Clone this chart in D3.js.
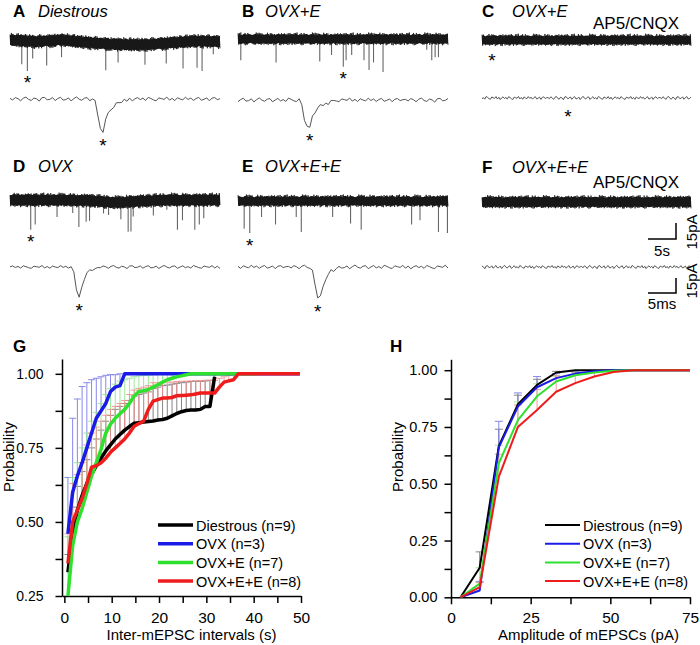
<!DOCTYPE html>
<html>
<head>
<meta charset="utf-8">
<script src="https://d3js.org/d3.v7.min.js"></script>
<style>
html,body{margin:0;padding:0;background:#fff;}
svg{display:block;}
</style>
</head>
<body>
<svg id="fig" width="700" height="645"></svg>
<script>
// ================= DATA =================
// --- Panel G: cumulative probability of inter-mEPSC intervals ---
const intervalBins = [0.75,1.75,2.75,3.75,4.75,5.75,6.75,7.75,8.75,9.75,
  10.75,11.75,12.75,13.75,14.75,15.75,16.75,17.75,18.75,19.75,
  20.75,21.75,22.75,23.75,24.75,25.75,26.75,27.75,28.75,29.75,
  30.75,31.75,32.75,33.75,34.75,35.75,36.75,37.75,38.75,39.75,
  40.75,41.75,42.75,43.75,44.75,45.75,46.75,47.75,48.75,49.75];
const cdfIntDiestrous = [0.33,0.46,0.54,0.59,0.63,0.66,0.69,0.715,0.74,0.76,
  0.78,0.795,0.81,0.822,0.833,0.835,0.837,0.839,0.841,0.844,
  0.846,0.85,0.858,0.866,0.872,0.876,0.878,0.878,0.88,0.89,
  0.89,0.99];
const cdfIntOVX = [0.46,0.60,0.655,0.70,0.75,0.80,0.85,0.875,0.90,0.94,
  0.955,0.96,1,1,1,1,1,1,1,1,
  1,1,1,1,1,1,1,1,1,1,
  1,1,1,1,1,1,1,1,1,1,
  1,1,1,1,1,1,1,1,1,1];
const cdfIntOVXE = [0.25,0.42,0.50,0.545,0.60,0.655,0.70,0.745,0.80,0.83,
  0.85,0.865,0.88,0.90,0.925,0.94,0.943,0.947,0.955,0.963,
  0.972,0.98,0.985,0.99,0.993,0.997,1,1,1,1,
  1,1,1,1,1,1,1,1,1,1,
  1];
const cdfIntOVXEE = [0.36,0.50,0.54,0.58,0.63,0.685,0.69,0.70,0.715,0.735,
  0.75,0.765,0.78,0.80,0.823,0.832,0.84,0.88,0.908,0.913,
  0.918,0.918,0.92,0.926,0.927,0.928,0.929,0.932,0.935,0.935,
  0.935,0.935,0.955,0.972,0.976,0.98,1,1,1,1,
  1,1,1,1,1,1,1,1,1,1];
// upward SEM
const semIntDiestrous = [0.06,0.09,0.08,0.08,0.08,0.09,0.09,0.095,0.1,0.1,
  0.1,0.095,0.09,0.088,0.092,0.095,0.098,0.1,0.109,0.111,
  0.114,0.112,0.107,0.102,0.098,0.096,0.096,0.097,0.095,0.086,
  0.088,0.01];
const semIntOVX = [0.19,0.25,0.26,0.257,0.22,0.18,0.135,0.115,0.095,0.057,0.042,0.04];
const semIntOVXE = [0.2,0.23,0.2,0.205,0.2,0.185,0.17,0.155,0.13,0.12,
  0.115,0.11,0.1,0.085,0.065,0.053,0.052,0.049,0.042,0.035,
  0.027,0.02,0.015,0.01,0.007,0.003];
const semIntOVXEE = [0.10,0.13,0.12,0.12,0.13,0.115,0.13,0.14,0.145,0.145,
  0.14,0.135,0.13,0.13,0.122,0.118,0.115,0.08,0.062,0.057,
  0.052,0.054,0.052,0.048,0.048,0.047,0.047,0.044,0.042,0.043,
  0.043,0.043,0.03,0.018,0.019,0.018];

// --- Panel H: cumulative probability of mEPSC amplitudes ---
const ampBins = [3,9,15,21,27,33,39,45,51,57,63,69,75];
const cdfAmpDiestrous = [0,0.13,0.665,0.85,0.935,0.99,1,1,1,1,1,1,1];
const cdfAmpOVX       = [0,0.03,0.66,0.84,0.925,0.965,0.985,0.995,1,1,1,1,1];
const cdfAmpOVXE      = [0,0.06,0.59,0.78,0.885,0.95,0.978,0.99,0.998,1,1,1,1];
const cdfAmpOVXEE     = [0,0.045,0.53,0.75,0.825,0.905,0.943,0.972,0.992,1,1,1,1];
const semAmpDiestrous = [0,0.07,0.075,0.04,0.025,0.005];
const semAmpOVX       = [0,0.04,0.115,0.06,0.047,0.02,0.008];
const semAmpOVXE      = [0,0.07,0.08,0.08,0.055,0.025,0.012,0.005];
const semAmpOVXEE     = [0,0.02,0.1,0.097,0.09,0.07,0.045,0.02,0.005];

const groupNames = ["Diestrous (n=9)","OVX (n=3)","OVX+E (n=7)","OVX+E+E (n=8)"];
const probTicks = [0.25,0.375,0.5,0.625,0.75,0.875,1.0];
const probTicksH = [0,0.125,0.25,0.375,0.5,0.625,0.75,0.875,1.0];
const intervalTicks = [0,5,10,15,20,25,30,35,40,45,50];
const ampTicks = [0,12.5,25,37.5,50,62.5,75];

// --- Panels A-F: recordings ---
// spontaneous events in the 37.5-s traces: [time (s), peak (pA)]
const spikesA = [[2.1,-22],[3.1,-28],[4.05,-16],[6.55,-23],[9.2,-16],[17.1,-25],[19.3,-17],[24.1,-19],[27.9,-19],[30.9,-25],[33.4,-25],[34.3,-28],[36.3,-12]];
const spikesB = [[0.5,-20],[6.8,-22],[14.6,-21],[16.7,-15],[18.8,-26],[19.3,-20],[20.3,-15],[22.5,-20],[23.4,-29],[24.2,-22],[25.9,-31],[33.7,-10],[34.6,-20],[35.2,-17],[35.8,-17]];
const spikesD = [[3.7,-28],[4.5,-23],[8.4,-16],[11.2,-12],[12.3,-25],[13.6,-20],[14.2,-19],[16.7,-11],[17.6,-12],[19.8,-16],[21.1,-28],[21.6,-28],[22.0,-14],[25.6,-14],[28.0,-9],[29.9,-28],[30.8,-19],[33.0,-28],[33.8,-23],[34.6,-17]];
const spikesE = [[1.1,-26],[2.1,-30],[4.2,-15],[6.7,-22],[10.4,-15],[11.3,-29],[16.9,-15],[20.1,-21],[22.0,-27],[31.0,-22],[32.5,-18],[35.8,-29],[37.4,-30]];
// slow baseline drift (pA) across the long traces
const driftA = [0,-1.5,0,-2.5,-4,-4.5,-3,-1,-1.5];
const driftD = [0,0,0,-0.5,-2.5,-1,0,0,0];
// baseline noise samples (pA)
const noise = [0.4,-0.6,0.9,0.2,-1.1,0.5,1.2,-0.3,-0.9,0.6,
  0.1,-1.3,0.8,1.0,-0.5,-0.2,0.9,-1.0,0.3,1.1,
  -0.7,-0.4,0.7,-1.2,0.2,1.3,-0.1,-0.8,0.5,0.9,
  -1.1,0.0,1.0,-0.6,0.3,-0.9,1.2,0.4,-0.5,-1.0,
  0.8,0.2,-0.3,1.1,-0.8,0.6,-1.2,0.1,0.9,-0.4,
  0.5,-0.9,1.0,0.3,-0.6,-1.1,0.7,0.2,-0.2,1.2,
  -0.7,0.4,-1.0,0.8,0.0,-0.5,1.1,-0.3,0.6,-0.9,
  0.3,1.0,-0.8,-0.2,0.7,-1.1,0.5,0.9,-0.4,0.2];
// single-event waveforms (pA, 0.47-ms samples)
const eventA = [-3,-15,-30,-32,-22,-14,-10,-7,-5,-4,-3,-2,-1];
const eventB = [-5,-20,-28,-26,-17,-11,-8,-6,-5,-4,-3,-2,-1];
const eventD = [-6,-22,-30,-21,-11,-6,-4,-3,-2,-1];
const eventE = [-4,-18,-29,-30,-21,-12,-7,-4,-3,-2,-1];

// ================= DRAWING =================
const FONT = "'Liberation Sans', Arial, Helvetica, sans-serif";
const svg = d3.select("#fig").style("font-family", FONT);

// ---------- panel titles ----------
const titles = [
  {L:"A", t:"Diestrous", x:13, tx:38, y:17},
  {L:"B", t:"OVX+E", x:242, tx:265, y:17},
  {L:"C", t:"OVX+E", x:482, tx:512, y:17},
  {L:"D", t:"OVX", x:13, tx:38, y:172},
  {L:"E", t:"OVX+E+E", x:242, tx:265, y:172},
  {L:"F", t:"OVX+E+E", x:482, tx:512, y:173}
];
titles.forEach(d => {
  svg.append("text").attr("x", d.x).attr("y", d.y).text(d.L)
    .attr("font-size", 17).attr("font-weight", "bold");
  svg.append("text").attr("x", d.tx).attr("y", d.y).text(d.t)
    .attr("font-size", 16.5).attr("font-style", "italic");
});
[[593,29],[593,188]].forEach(p => {
  svg.append("text").attr("x", p[0]).attr("y", p[1]).text("AP5/CNQX").attr("font-size", 17);
});

// ---------- long (37.5 s) traces ----------
const KL = 16/15; // px per pA
const longTraces = [
  {spikes: spikesA, drift: driftA, x0:10,  w:210, cy:40,  h:4.5, off:0,  star:1},
  {spikes: spikesB, drift: null,   x0:238, w:210, cy:39,  h:3.6, off:13, star:4},
  {spikes: [],      drift: null,   x0:482, w:209, cy:40,  h:3.4, off:29, starXY:[492,57]},
  {spikes: spikesD, drift: driftD, x0:10,  w:210, cy:200, h:4.5, off:41, star:0},
  {spikes: spikesE, drift: null,   x0:238, w:210, cy:201, h:3.6, off:55, star:1},
  {spikes: [],      drift: null,   x0:482, w:209, cy:202, h:4.0, off:67}
];
function asterisk(x, yc) {
  svg.append("text").attr("x", x).attr("y", yc + 10).attr("text-anchor", "middle")
    .attr("font-size", 19).text("*");
}
longTraces.forEach(cfg => {
  const xs = d3.scaleLinear().domain([0, 37.5]).range([cfg.x0, cfg.x0 + cfg.w]);
  const dr = cfg.drift
    ? d3.scaleLinear().domain(cfg.drift.map((d, i) => i * 37.5 / (cfg.drift.length - 1))).range(cfg.drift)
    : () => 0;
  const g = svg.append("g");
  // spikes (gray)
  g.selectAll("line").data(cfg.spikes).join("line")
    .attr("x1", d => xs(d[0])).attr("x2", d => xs(d[0]))
    .attr("y1", d => cfg.cy - dr(d[0]) * KL)
    .attr("y2", d => cfg.cy - (dr(d[0]) + d[1]) * KL)
    .attr("stroke", "#666").attr("stroke-width", 1.1);
  // solid core of the noise band with ragged edges
  const M = 120;
  const band = d3.range(M).map(j => {
    const t = j * 37.5 / (M - 1);
    return {t,
      top: cfg.cy - dr(t) * KL - cfg.h - Math.abs(noise[(j + cfg.off) % noise.length]) * 1.3,
      bot: cfg.cy - dr(t) * KL + cfg.h + Math.abs(noise[(j + cfg.off + 37) % noise.length]) * 1.3};
  });
  g.append("path").attr("d", d3.area().x(d => xs(d.t)).y0(d => d.top).y1(d => d.bot)(band))
    .attr("fill", "#111");
  // fine zigzag texture over it
  const N = 300;
  const pts = d3.range(N).map(j => {
    const t = j * 37.5 / (N - 1);
    const a = cfg.h + Math.abs(noise[(j * 3 + cfg.off) % noise.length]) * 2.2;
    return [xs(t), cfg.cy - dr(t) * KL + (j % 2 ? a : -a)];
  });
  g.append("path").attr("d", d3.line()(pts)).attr("fill", "none")
    .attr("stroke", "#1a1a1a").attr("stroke-width", 0.8);
  if (cfg.star !== undefined) {
    const s = cfg.spikes[cfg.star];
    asterisk(xs(s[0]), cfg.cy - (dr(s[0]) + s[1]) * KL + 8.5);
  } else if (cfg.starXY) asterisk(cfg.starXY[0], cfg.starXY[1]);
});

// ---------- expanded single-event traces ----------
const zoomTraces = [
  {x0:10,  w:210, cy:99,  event:eventA, onset:32, off:0,  amp:1.6},
  {x0:238, w:210, cy:100, event:eventB, onset:24, off:17, amp:1.6},
  {x0:482, w:209, cy:98,  event:null, off:33, amp:1.3, fine:true, starXY:[568,113]},
  {x0:10,  w:210, cy:267, event:eventD, onset:24, off:47, amp:1.2},
  {x0:238, w:210, cy:267, event:eventE, onset:28, off:61, amp:1.5},
  {x0:482, w:209, cy:267, event:null, off:9, amp:1.3, fine:true}
];
zoomTraces.forEach(cfg => {
  const n = cfg.fine ? 150 : 80;
  const xs = d3.scaleLinear().domain([0, n - 1]).range([cfg.x0, cfg.x0 + cfg.w]);
  const vals = d3.range(n).map(i => {
    let v = noise[(i + cfg.off) % noise.length] * cfg.amp;
    if (cfg.event && i >= cfg.onset && i < cfg.onset + cfg.event.length) v += cfg.event[i - cfg.onset];
    return v;
  });
  svg.append("path")
    .attr("d", d3.line().x((d, i) => xs(i)).y(d => cfg.cy - d)(vals))
    .attr("fill", "none").attr("stroke", "#555").attr("stroke-width", 1);
  if (cfg.event) {
    const iMin = d3.minIndex(vals);
    asterisk(xs(iMin), cfg.cy - vals[iMin] + 10);
  } else if (cfg.starXY) asterisk(cfg.starXY[0], cfg.starXY[1]);
});

// ---------- scale bars ----------
function scaleBar(xr, yb, ytop, lab1, lab1y, lab2y) {
  svg.append("path").attr("d", `M${xr - 28},${yb}H${xr}V${ytop}`)
    .attr("fill", "none").attr("stroke", "#000").attr("stroke-width", 1.5);
  svg.append("text").attr("x", xr - 14).attr("y", lab1y).attr("text-anchor", "middle")
    .attr("font-size", 15).text(lab1);
  svg.append("text").attr("transform", `translate(697,${lab2y}) rotate(-90)`)
    .attr("text-anchor", "middle").attr("font-size", 15).text("15pA");
}
scaleBar(676, 239, 223, "5s", 256, 232);
scaleBar(676, 293, 278, "5ms", 309, 281);

// ---------- CDF panels ----------
const colors = ["#000000", "#1b1be8", "#2fe02f", "#ee1c1c"];
const errColors = ["#707070", "#7474e6", "#8ae88a", "#f08c8c"];

function drawCDF(cfg) {
  const x = d3.scaleLinear().domain(cfg.xDomain).range(cfg.xRange);
  const y = d3.scaleLinear().domain(cfg.yDomain).range(cfg.yRange);
  const g = svg.append("g");
  // axes
  const xAxis = d3.axisBottom(x).tickValues(cfg.xTicks).tickSize(7).tickSizeOuter(0)
    .tickPadding(cfg.xPad).tickFormat(d => (cfg.xLabelEvery(d) ? d3.format("d")(d) : ""));
  const yAxis = d3.axisLeft(y).tickValues(cfg.yTicks).tickSize(6.5).tickSizeOuter(0)
    .tickPadding(cfg.yPad).tickFormat(d => (Math.abs(d * 4 - Math.round(d * 4)) < 1e-9 ? d3.format(".2f")(d) : ""));
  const ax = g.append("g").attr("transform", `translate(0,${cfg.yRange[0]})`).call(xAxis);
  const ay = g.append("g").attr("transform", `translate(${cfg.xRange[0]},0)`).call(yAxis);
  [ax, ay].forEach(a => {
    a.selectAll("path,line").attr("stroke", "#000").attr("stroke-width", 1.5);
    a.selectAll("text").attr("fill", "#000").style("font-family", FONT);
  });
  ax.selectAll("text").attr("font-size", cfg.xFont);
  ay.selectAll("text").attr("font-size", cfg.yFont);

  // error bars
  cfg.series.forEach((s, si) => {
    const eb = s.values.map((v, i) => ({x: cfg.bins[i], v, e: s.sem[i] || 0})).filter(d => d.e > 0);
    const eg = g.append("g").attr("stroke", errColors[si]).attr("stroke-width", 1).attr("opacity", 0.85);
    eg.selectAll("line.v").data(eb).join("line").attr("class", "v")
      .attr("x1", d => x(d.x)).attr("x2", d => x(d.x))
      .attr("y1", d => y(d.v)).attr("y2", d => y(d.v + d.e));
    eg.selectAll("line.c").data(eb).join("line").attr("class", "c")
      .attr("x1", d => x(d.x) - cfg.cap).attr("x2", d => x(d.x) + cfg.cap)
      .attr("y1", d => y(d.v + d.e)).attr("y2", d => y(d.v + d.e));
  });
  // lines
  cfg.series.forEach((s, si) => {
    const line = d3.line().x((d, i) => x(cfg.bins[i])).y(d => y(d));
    g.append("path").attr("d", line(s.values)).attr("fill", "none")
      .attr("stroke", colors[si]).attr("stroke-width", cfg.lw).attr("stroke-linejoin", "round");
  });
  // legend
  groupNames.forEach((name, i) => {
    const ly = cfg.legY + i * 18.7;
    g.append("line").attr("x1", cfg.legX).attr("x2", cfg.legX + 35).attr("y1", ly).attr("y2", ly)
      .attr("stroke", colors[i]).attr("stroke-width", cfg.lw);
    g.append("text").attr("x", cfg.legX + 38).attr("y", ly + 5.5).attr("font-size", 14.5).text(name);
  });
  // titles
  g.append("text").attr("x", cfg.xRange[0] + (cfg.xRange[1] - cfg.xRange[0]) / 2 + cfg.xTitleShift)
    .attr("y", 640).attr("text-anchor", "middle").attr("font-size", 15).text(cfg.xTitle);
  g.append("text").attr("transform", `translate(${cfg.yTitleX},457) rotate(-90)`)
    .attr("text-anchor", "middle").attr("font-size", 15).text("Probability");
  g.append("text").attr("x", cfg.letterX).attr("y", 352).attr("font-size", 17)
    .attr("font-weight", "bold").text(cfg.letter);
}

drawCDF({
  letter: "G", letterX: 13,
  bins: intervalBins,
  xDomain: [-0.5, 50], xRange: [62, 301],
  yDomain: [0.25, 1.05], yRange: [596, 359],
  xTicks: intervalTicks, xLabelEvery: d => d % 10 === 0,
  yTicks: probTicks, xPad: 9, yPad: 12, xFont: 15.5, yFont: 14,
  series: [
    {values: cdfIntDiestrous, sem: semIntDiestrous},
    {values: cdfIntOVX, sem: semIntOVX},
    {values: cdfIntOVXE, sem: semIntOVXE},
    {values: cdfIntOVXEE, sem: semIntOVXEE}
  ],
  cap: 3.5, lw: 3.5,
  legX: 158, legY: 525,
  xTitle: "Inter-mEPSC intervals (s)", xTitleShift: 10, yTitleX: 14
});

drawCDF({
  letter: "H", letterX: 390,
  bins: ampBins,
  xDomain: [0, 75], xRange: [451, 690],
  yDomain: [0, 1.048], yRange: [597.3, 359.3],
  xTicks: ampTicks, xLabelEvery: d => d % 25 === 0,
  yTicks: probTicksH, xPad: 8, yPad: 7, xFont: 15.5, yFont: 14.5,
  series: [
    {values: cdfAmpDiestrous, sem: semAmpDiestrous},
    {values: cdfAmpOVX, sem: semAmpOVX},
    {values: cdfAmpOVXE, sem: semAmpOVXE},
    {values: cdfAmpOVXEE, sem: semAmpOVXEE}
  ],
  cap: 4, lw: 2,
  legX: 545, legY: 525,
  xTitle: "Amplitude of mEPSCs (pA)", xTitleShift: 18, yTitleX: 403
});
</script>
</body>
</html>
